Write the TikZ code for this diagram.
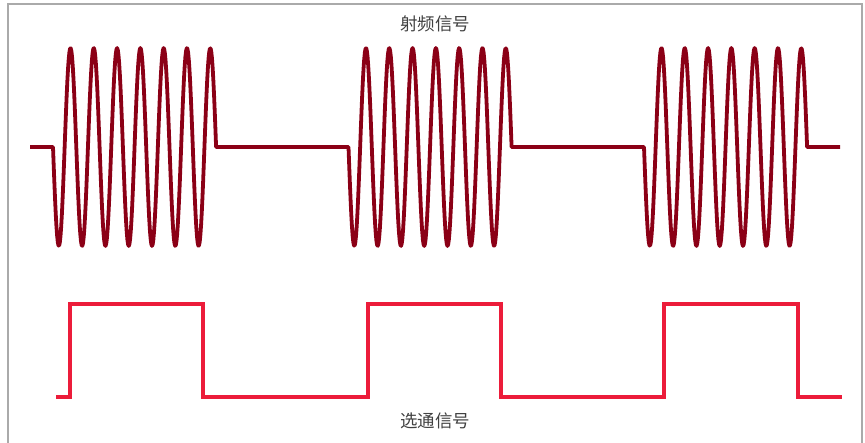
\documentclass[tikz,border=0pt]{standalone}
\usepackage{fontspec}
\newfontfamily\cjk{Noto Sans CJK SC}
\definecolor{rfred}{RGB}{139,0,22}
\definecolor{gatered}{RGB}{236,28,58}
\definecolor{framegray}{RGB}{170,170,170}
\definecolor{labelgray}{RGB}{64,64,64}
\begin{document}
\begin{tikzpicture}[x=1pt,y=-1pt,
  rfline/.style={draw=rfred,line width=3.8pt,line join=round},
  gateline/.style={draw=gatered,line width=3.6pt,line join=miter},
  framebox/.style={draw=framegray,line width=1.4pt},
  siglabel/.style={font=\cjk\fontsize{17.5}{20}\selectfont,text=labelgray,inner sep=0pt}]
\useasboundingbox (0,0) rectangle (865,443);
% frame
\draw[framebox] (8,443) -- (8,4) -- (862,4) -- (862,443);
% RF signal
\draw[rfline] (30,147) -- (53,147)
  -- plot[domain=0:163.1,samples=240] ({53+\x},{147+99*sin(\x*15.4506)})
  -- (216.1,147) -- (348.5,147)
  -- plot[domain=0:163.1,samples=240] ({348.5+\x},{147+99*sin(\x*15.4506)})
  -- (511.6,147) -- (644,147)
  -- plot[domain=0:163.1,samples=240] ({644+\x},{147+99*sin(\x*15.4506)})
  -- (807.1,147) -- (840,147);
% gate signal
\draw[gateline] (56,397) -- (70,397) -- (70,304) -- (203,304) -- (203,397)
  -- (368,397) -- (368,304) -- (501,304) -- (501,397) -- (664,397)
  -- (664,304) -- (798,304) -- (798,397) -- (842,397);
% labels
\node[siglabel] (rf) at (435,23.5) {射频信号};
\node[siglabel] (gate) at (435,420.5) {选通信号};
\end{tikzpicture}
\end{document}
